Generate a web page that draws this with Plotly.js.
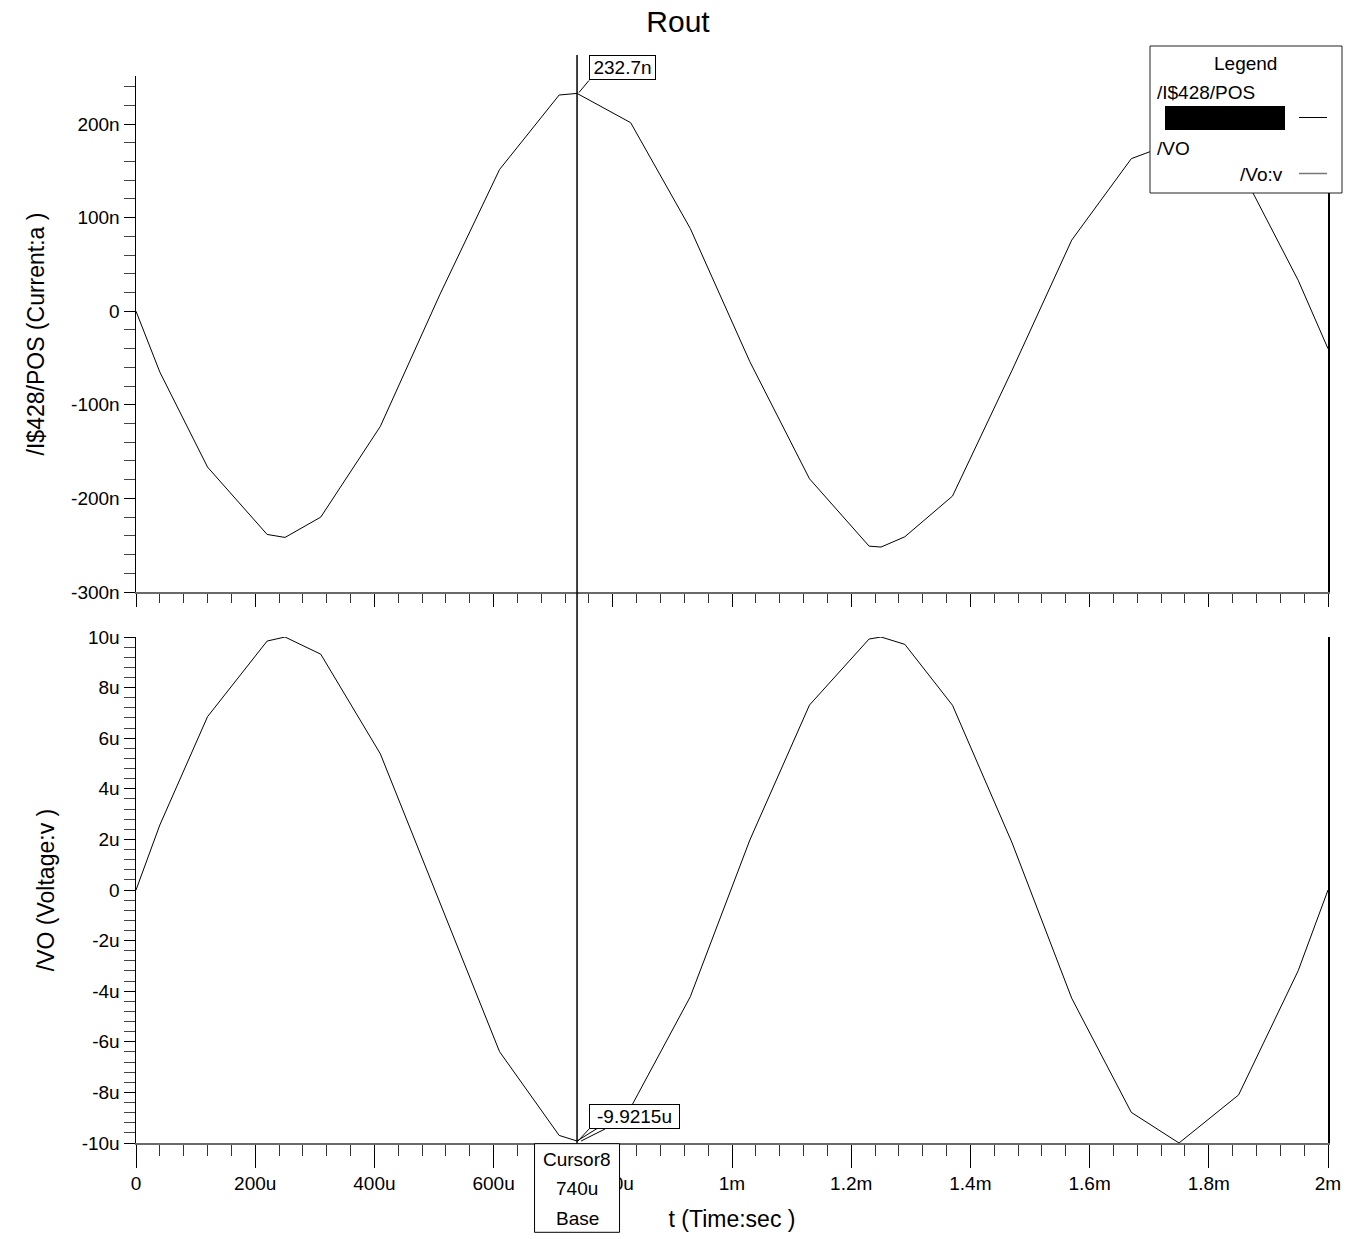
<!DOCTYPE html>
<html>
<head>
<meta charset="utf-8">
<script src="https://cdn.plot.ly/plotly-3.0.1.min.js"></script>
<style>html,body{margin:0;padding:0;background:#fff;}#chart{width:1356px;height:1239px;}</style>
</head>
<body>
<div id="chart"></div>
<script>
// ---- data (time in microseconds, current in nA, voltage in uV) ----
const timeUs = [0, 40, 120, 220, 250, 310, 410, 510, 610, 710, 740, 830, 930, 1030, 1130, 1230, 1250, 1290, 1370, 1470, 1570, 1670, 1750, 1850, 1950, 2000];
const currentPosNa = [0, -65, -166.5, -238.5, -241.7, -220, -123, 18, 151.4, 231, 232.7, 201.4, 88.4, -54, -179, -251, -252, -241, -197.5, -63, 76, 163, 182, 156, 33, -40];
const voltageVoUv = [0, 2.57, 6.85, 9.84, 10, 9.32, 5.38, -0.5, -6.39, -9.7, -9.9215, -8.6, -4.22, 1.98, 7.31, 9.92, 10, 9.71, 7.3, 1.86, -4.28, -8.79, -10, -8.1, -3.19, 0];

const xTickVals = [0, 200, 400, 600, 800, 1000, 1200, 1400, 1600, 1800, 2000];
const xTickText = ["0", "200u", "400u", "600u", "800u", "1m", "1.2m", "1.4m", "1.6m", "1.8m", "2m"];
const yTopTickVals = [-300, -200, -100, 0, 100, 200];
const yTopTickText = ["-300n", "-200n", "-100n", "0", "100n", "200n"];
const yBotTickVals = [-10, -8, -6, -4, -2, 0, 2, 4, 6, 8, 10];
const yBotTickText = ["-10u", "-8u", "-6u", "-4u", "-2u", "0", "2u", "4u", "6u", "8u", "10u"];

const cursorName = "Cursor8";
const cursorTime = 740;
const cursorTimeLabel = "740u";
const cursorTopValue = 232.7;
const cursorTopLabel = "232.7n";
const cursorBotValue = -9.9215;
const cursorBotLabel = "-9.9215u";

// ---- layout helpers (pixel -> paper) ----
const PL = 136, PR = 1328, PT = 76, PB = 1143;
const PW = PR - PL, PH = PB - PT;
const fx = p => (p - PL) / PW;
const fy = p => (PB - p) / PH;

const FONT = "Liberation Sans, Arial, Helvetica, sans-serif";

const traces = [
  {x: timeUs, y: currentPosNa, xaxis: 'x', yaxis: 'y', type: 'scatter', mode: 'lines',
   line: {color: '#000', width: 1}, name: '/I$428/POS', hoverinfo: 'x+y'},
  {x: timeUs, y: voltageVoUv, xaxis: 'x2', yaxis: 'y2', type: 'scatter', mode: 'lines',
   line: {color: '#000', width: 1}, name: '/Vo:v', hoverinfo: 'x+y'}
];

const commonX = {
  range: [0, 2000], showline: true, linecolor: '#6a6a6a', linewidth: 1.5,
  ticks: 'outside', tickmode: 'array', tickvals: xTickVals, tickcolor: '#000', tickwidth: 1,
  showgrid: false, zeroline: false,
  minor: {ticks: 'outside', tick0: 0, dtick: 40, tickcolor: '#333', tickwidth: 1, showgrid: false}
};

const layout = {
  width: 1356, height: 1239,
  paper_bgcolor: '#fff', plot_bgcolor: '#fff',
  margin: {l: PL, r: 1356 - PR, t: PT, b: 1239 - PB, pad: 0},
  showlegend: false,
  font: {family: FONT, color: '#000', size: 19},
  title: {text: 'Rout', font: {size: 30, family: FONT, color: '#000'}, x: 0.5, xref: 'container',
          y: 1 - 21 / 1239, yref: 'container', yanchor: 'middle'},
  xaxis: Object.assign({}, commonX, {
    anchor: 'y', domain: [0, 1], ticklen: 13, showticklabels: false, matches: 'x2',
    minor: Object.assign({}, commonX.minor, {ticklen: 9})
  }),
  xaxis2: Object.assign({}, commonX, {
    anchor: 'y2', domain: [0, 1], ticklen: 23, ticktext: xTickText, showticklabels: true,
    tickfont: {size: 19, family: FONT, color: '#000'},
    minor: Object.assign({}, commonX.minor, {ticklen: 11}),
    title: {text: 't (Time:sec )', font: {size: 23, family: FONT, color: '#000'}, standoff: 17}
  }),
  yaxis: {
    anchor: 'x', domain: [fy(592), 1], range: [-300, 251.3],
    showline: true, linecolor: '#000', linewidth: 1.5, mirror: true,
    ticks: 'outside', ticklen: 11, tickcolor: '#000', tickmode: 'array',
    tickvals: yTopTickVals, ticktext: yTopTickText, tickfont: {size: 19, family: FONT, color: '#000'},
    minor: {ticks: 'outside', tick0: 0, dtick: 20, ticklen: 11, tickcolor: '#444', showgrid: false},
    showgrid: false, zeroline: false,
    title: {text: '/I$428/POS (Current:a )', font: {size: 23, family: FONT, color: '#000'}, standoff: 20}
  },
  yaxis2: {
    anchor: 'x2', domain: [0, fy(637)], range: [-10, 10],
    showline: true, linecolor: '#000', linewidth: 1.5, mirror: true,
    ticks: 'outside', ticklen: 11, tickcolor: '#000', tickmode: 'array',
    tickvals: yBotTickVals, ticktext: yBotTickText, tickfont: {size: 19, family: FONT, color: '#000'},
    minor: {ticks: 'outside', tick0: 0, dtick: 0.4, ticklen: 11, tickcolor: '#444', showgrid: false},
    showgrid: false, zeroline: false,
    title: {text: '/VO (Voltage:v )', font: {size: 23, family: FONT, color: '#000'}, standoff: 20}
  },
  shapes: [
    // cursor line
    {type: 'line', layer: 'above', xref: 'x2', yref: 'paper', x0: cursorTime, x1: cursorTime,
     y0: 0, y1: fy(55), line: {color: '#000', width: 1.5}},
    // top value callout leader
    {type: 'line', layer: 'above', xref: 'x', yref: 'y', xsizemode: 'pixel', ysizemode: 'pixel',
     xanchor: cursorTime, yanchor: cursorTopValue, x0: 2, x1: 12, y0: 1, y1: 13,
     line: {color: '#000', width: 1}},
    // bottom value callout leaders
    {type: 'line', layer: 'above', xref: 'x2', yref: 'y2', xsizemode: 'pixel', ysizemode: 'pixel',
     xanchor: cursorTime, yanchor: cursorBotValue, x0: 1, x1: 12, y0: 0, y1: 12,
     line: {color: '#000', width: 1}},
    {type: 'line', layer: 'above', xref: 'x2', yref: 'y2', xsizemode: 'pixel', ysizemode: 'pixel',
     xanchor: cursorTime, yanchor: cursorBotValue, x0: 4, x1: 28, y0: 0, y1: 12,
     line: {color: '#000', width: 1}},
    // cursor box
    {type: 'rect', layer: 'above', xref: 'x2', yref: 'paper', xsizemode: 'pixel',
     xanchor: cursorTime, x0: -42.5, x1: 42.5, y0: fy(1143.7), y1: fy(1232.3),
     fillcolor: '#fff', line: {color: '#000', width: 1}},
    // legend box
    {type: 'rect', layer: 'above', xref: 'paper', yref: 'paper', x0: fx(1150), x1: fx(1342),
     y0: fy(193), y1: fy(46), fillcolor: '#fff', line: {color: '#222', width: 1}},
    {type: 'rect', layer: 'above', xref: 'paper', yref: 'paper', x0: fx(1165), x1: fx(1285),
     y0: fy(130), y1: fy(106), fillcolor: '#000', line: {color: '#000', width: 0}},
    {type: 'line', layer: 'above', xref: 'paper', yref: 'paper', x0: fx(1299), x1: fx(1327),
     y0: fy(117.5), y1: fy(117.5), line: {color: '#000', width: 1}},
    {type: 'line', layer: 'above', xref: 'paper', yref: 'paper', x0: fx(1299), x1: fx(1327),
     y0: fy(173.5), y1: fy(173.5), line: {color: '#777', width: 1.5}}
  ],
  annotations: [
    {text: cursorTopLabel, xref: 'x', yref: 'y', x: cursorTime, y: cursorTopValue,
     xanchor: 'left', yanchor: 'bottom', xshift: 12, yshift: 13, showarrow: false,
     bgcolor: '#fff', bordercolor: '#000', borderwidth: 1, borderpad: 0, width: 65, height: 23,
     font: {size: 19, family: FONT, color: '#000'}},
    {text: cursorBotLabel, xref: 'x2', yref: 'y2', x: cursorTime, y: cursorBotValue,
     xanchor: 'left', yanchor: 'bottom', xshift: 12, yshift: 12, showarrow: false,
     bgcolor: '#fff', bordercolor: '#000', borderwidth: 1, borderpad: 0, width: 89, height: 23,
     font: {size: 19, family: FONT, color: '#000'}},
    {text: cursorName, xref: 'x2', yref: 'paper', x: cursorTime, y: fy(1159.5), yanchor: 'middle',
     showarrow: false, font: {size: 19, family: FONT, color: '#000'}},
    {text: cursorTimeLabel, xref: 'x2', yref: 'paper', x: cursorTime, y: fy(1188.5), yanchor: 'middle',
     showarrow: false, font: {size: 19, family: FONT, color: '#000'}},
    {text: 'Base', xref: 'x2', yref: 'paper', x: cursorTime, y: fy(1218), yanchor: 'middle',
     showarrow: false, font: {size: 19, family: FONT, color: '#000'}},
    {text: 'Legend', xref: 'paper', yref: 'paper', x: fx(1245), y: fy(63), xanchor: 'center', yanchor: 'middle',
     showarrow: false, font: {size: 19, family: FONT, color: '#000'}},
    {text: '/I$428/POS', xref: 'paper', yref: 'paper', x: fx(1155), y: fy(92), xanchor: 'left', yanchor: 'middle',
     showarrow: false, font: {size: 19, family: FONT, color: '#000'}},
    {text: '/VO', xref: 'paper', yref: 'paper', x: fx(1155), y: fy(148), xanchor: 'left', yanchor: 'middle',
     showarrow: false, font: {size: 19, family: FONT, color: '#000'}},
    {text: '/Vo:v', xref: 'paper', yref: 'paper', x: fx(1285), y: fy(174), xanchor: 'right', yanchor: 'middle',
     showarrow: false, font: {size: 19, family: FONT, color: '#000'}}
  ]
};

Plotly.newPlot('chart', traces, layout, {displayModeBar: false, staticPlot: true});
</script>
</body>
</html>
